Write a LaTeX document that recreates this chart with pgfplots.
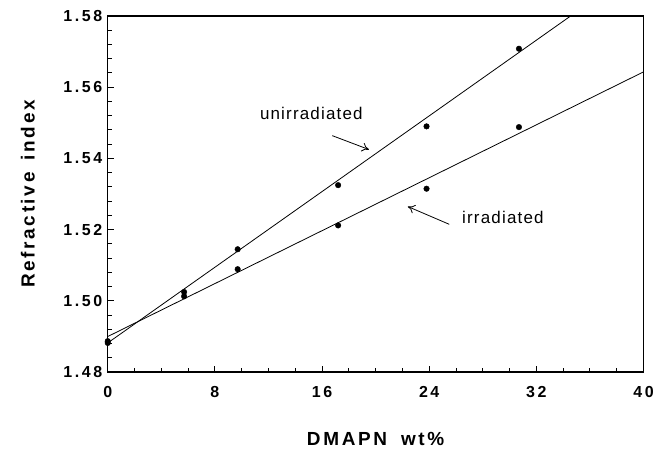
\documentclass[border=0pt]{standalone}
\usepackage{fontspec}
\setmainfont{Liberation Sans}
\newfontfamily\tickfont[LetterSpace=16]{Liberation Sans}
\newfontfamily\labfont[LetterSpace=14]{Liberation Sans}
\newfontfamily\notefont[LetterSpace=7]{Liberation Sans}
\usepackage{pgfplots}
\pgfplotsset{compat=1.18}
\usetikzlibrary{arrows.meta}

\pgfplotstableread{
x     y
0     1.4882
5.7   1.5025
9.7   1.5145
17.2  1.5325
23.8  1.5490
30.7  1.5708
}\unirr
\pgfplotstableread{
x     y
0     1.4887
5.7   1.5013
9.7   1.5089
17.2  1.5212
23.8  1.5315
30.7  1.5488
}\irr

\begin{document}
\begin{tikzpicture}
\begin{axis}[
  scale only axis,
  width=537pt, height=357pt,
  xmin=0, xmax=40, ymin=1.48, ymax=1.58,
  xtick={0,8,16,24,32,40},
  xticklabels={0,8,16,24,32,40},
  ytick={1.48,1.50,1.52,1.54,1.56,1.58},
  yticklabels={1.48,1.50,1.52,1.54,1.56,1.58},
  minor x tick num=3, minor y tick num=4,
  tick pos=left, tick align=inside,
  major tick length=6pt, minor tick length=4pt,
  tick style={line width=1pt, black},
  axis line style={line width=1.4pt},
  ticklabel style={font=\tickfont\fontsize{16}{18}\selectfont\bfseries},
  xticklabel style={yshift=-11pt},
  yticklabel style={xshift=-2pt},
  xlabel={DMAPN\hspace{14pt}wt\%},
  ylabel={Refractive\hspace{12pt}index},
  label style={font=\labfont\fontsize{19}{21}\selectfont\bfseries},
  xlabel style={at={(axis description cs:0.5,-0.188)}, anchor=center},
  ylabel style={at={(axis description cs:-0.149,0.5)}, anchor=center},
]
  % fitted lines
  \addplot[black, line width=0.8pt] coordinates {(0,1.4882) (34.56,1.58)};
  \addplot[black, line width=0.8pt] coordinates {(0,1.4900) (40,1.5643)};
  % data points
  \addplot[only marks, mark=*, mark size=2.8pt, black] table {\unirr};
  \addplot[only marks, mark=*, mark size=2.8pt, black] table {\irr};
  % annotations
  \node[font=\notefont\fontsize{17}{19}\selectfont] at (axis cs:15.2,1.5525) {unirradiated};
  \draw[-{To[length=7pt,width=9pt]}, line width=0.8pt] (axis cs:16.76,1.5464) -- (axis cs:19.5,1.5425);
  \node[font=\notefont\fontsize{17}{19}\selectfont, anchor=west] at (axis cs:26.2,1.5234) {irradiated};
  \draw[-{To[length=7pt,width=9pt]}, line width=0.8pt] (axis cs:25.5,1.5215) -- (axis cs:22.4,1.5265);
  \coordinate (sw) at (rel axis cs:0,0);
  \coordinate (ne) at (rel axis cs:1,1);
\end{axis}
\path ([shift={(-108pt,-82pt)}]sw) rectangle ([shift={(12pt,16pt)}]ne);
\end{tikzpicture}
\end{document}
